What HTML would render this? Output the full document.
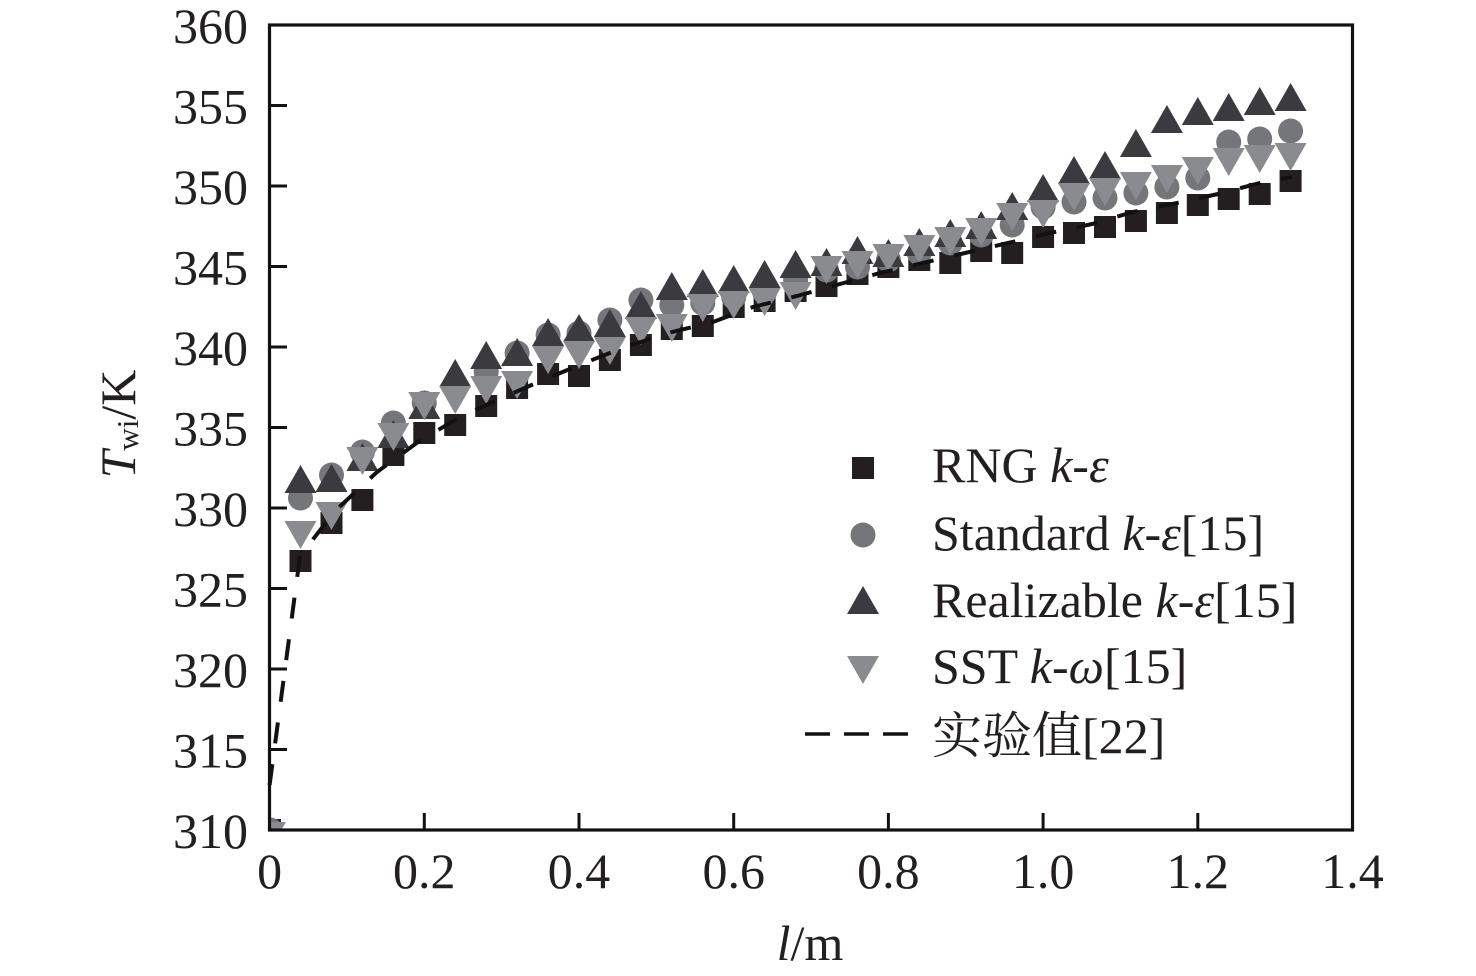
<!DOCTYPE html>
<html><head><meta charset="utf-8"><style>
html,body{margin:0;padding:0;background:#fff;}
svg{display:block;}
text{font-family:"Liberation Serif","Noto Serif CJK SC",serif;fill:#231f20;}
</style></head><body>
<svg width="1476" height="976" viewBox="0 0 1476 976" xmlns="http://www.w3.org/2000/svg">
<defs>
<rect id="sq" x="-11" y="-11" width="22" height="22" fill="#231f20"/>
<circle id="ci" cx="0" cy="0" r="12.5" fill="#75767a"/>
<polygon id="ut" points="0,-14 16,14 -16,14" fill="#3b3a3f"/>
<polygon id="dt" points="-16,-14 16,-14 0,14" fill="#8a8b8e"/>
<clipPath id="pc"><rect x="269.5" y="25" width="1083" height="805"/></clipPath>
</defs>
<rect width="1476" height="976" fill="#fff"/>

<g clip-path="url(#pc)">
<use href="#sq" x="270" y="830"/>
<use href="#ci" x="270" y="830"/>
<use href="#ut" x="270" y="836"/>
<use href="#dt" x="270" y="836"/>
</g>

<g>
<use href="#sq" x="300.5" y="561"/><use href="#sq" x="331.5" y="523"/><use href="#sq" x="362.4" y="500"/><use href="#sq" x="393.4" y="455"/>
<use href="#sq" x="424.3" y="433"/><use href="#sq" x="455.2" y="425"/><use href="#sq" x="486.2" y="406"/><use href="#sq" x="517.1" y="388"/>
<use href="#sq" x="548.1" y="374"/><use href="#sq" x="579.0" y="376"/><use href="#sq" x="609.9" y="360"/><use href="#sq" x="640.9" y="345"/>
<use href="#sq" x="671.8" y="329"/><use href="#sq" x="702.8" y="326"/><use href="#sq" x="733.7" y="307"/><use href="#sq" x="764.6" y="301"/>
<use href="#sq" x="795.6" y="291"/><use href="#sq" x="826.5" y="286"/><use href="#sq" x="857.5" y="274"/><use href="#sq" x="888.4" y="267"/>
<use href="#sq" x="919.3" y="260"/><use href="#sq" x="950.3" y="263"/><use href="#sq" x="981.2" y="251"/><use href="#sq" x="1012.2" y="253"/>
<use href="#sq" x="1043.1" y="237"/><use href="#sq" x="1074.0" y="233"/><use href="#sq" x="1105.0" y="227"/><use href="#sq" x="1135.9" y="221"/>
<use href="#sq" x="1166.9" y="213"/><use href="#sq" x="1197.8" y="205"/><use href="#sq" x="1228.7" y="199"/><use href="#sq" x="1259.7" y="194"/>
<use href="#sq" x="1290.6" y="181"/>
</g>

<g>
<use href="#ci" x="300.5" y="498"/><use href="#ci" x="331.5" y="475"/><use href="#ci" x="362.4" y="452"/><use href="#ci" x="393.4" y="423"/>
<use href="#ci" x="424.3" y="403"/><use href="#ci" x="455.2" y="385"/><use href="#ci" x="486.2" y="372"/><use href="#ci" x="517.1" y="353"/>
<use href="#ci" x="548.1" y="335"/><use href="#ci" x="579.0" y="333"/><use href="#ci" x="609.9" y="320"/><use href="#ci" x="640.9" y="300"/>
<use href="#ci" x="671.8" y="305"/><use href="#ci" x="702.8" y="303"/><use href="#ci" x="733.7" y="297"/><use href="#ci" x="764.6" y="292"/>
<use href="#ci" x="795.6" y="280"/><use href="#ci" x="826.5" y="270"/><use href="#ci" x="857.5" y="267"/><use href="#ci" x="888.4" y="260"/>
<use href="#ci" x="919.3" y="253"/><use href="#ci" x="950.3" y="243"/><use href="#ci" x="981.2" y="235"/><use href="#ci" x="1012.2" y="225"/>
<use href="#ci" x="1043.1" y="207"/><use href="#ci" x="1074.0" y="202"/><use href="#ci" x="1105.0" y="198"/><use href="#ci" x="1135.9" y="193"/>
<use href="#ci" x="1166.9" y="187"/><use href="#ci" x="1197.8" y="178"/><use href="#ci" x="1228.7" y="142"/><use href="#ci" x="1259.7" y="139"/>
<use href="#ci" x="1290.6" y="131"/>
</g>

<g>
<use href="#ut" x="300.5" y="479"/><use href="#ut" x="331.5" y="478"/><use href="#ut" x="362.4" y="457"/><use href="#ut" x="393.4" y="434"/>
<use href="#ut" x="424.3" y="405"/><use href="#ut" x="455.2" y="373"/><use href="#ut" x="486.2" y="355"/><use href="#ut" x="517.1" y="352"/>
<use href="#ut" x="548.1" y="332"/><use href="#ut" x="579.0" y="328"/><use href="#ut" x="609.9" y="323"/><use href="#ut" x="640.9" y="305"/>
<use href="#ut" x="671.8" y="286"/><use href="#ut" x="702.8" y="283"/><use href="#ut" x="733.7" y="279"/><use href="#ut" x="764.6" y="274"/>
<use href="#ut" x="795.6" y="264"/><use href="#ut" x="826.5" y="262"/><use href="#ut" x="857.5" y="250"/><use href="#ut" x="888.4" y="253"/>
<use href="#ut" x="919.3" y="242"/><use href="#ut" x="950.3" y="233"/><use href="#ut" x="981.2" y="225"/><use href="#ut" x="1012.2" y="206"/>
<use href="#ut" x="1043.1" y="188"/><use href="#ut" x="1074.0" y="170"/><use href="#ut" x="1105.0" y="165"/><use href="#ut" x="1135.9" y="143"/>
<use href="#ut" x="1166.9" y="119"/><use href="#ut" x="1197.8" y="111"/><use href="#ut" x="1228.7" y="107"/><use href="#ut" x="1259.7" y="101"/>
<use href="#ut" x="1290.6" y="97"/>
</g>

<g>
<use href="#dt" x="300.5" y="535"/><use href="#dt" x="331.5" y="516"/><use href="#dt" x="362.4" y="461"/><use href="#dt" x="393.4" y="437"/>
<use href="#dt" x="424.3" y="406"/><use href="#dt" x="455.2" y="400"/><use href="#dt" x="486.2" y="390"/><use href="#dt" x="517.1" y="385"/>
<use href="#dt" x="548.1" y="360"/><use href="#dt" x="579.0" y="355"/><use href="#dt" x="609.9" y="351"/><use href="#dt" x="640.9" y="331"/>
<use href="#dt" x="671.8" y="328"/><use href="#dt" x="702.8" y="308"/><use href="#dt" x="733.7" y="305"/><use href="#dt" x="764.6" y="302"/>
<use href="#dt" x="795.6" y="296"/><use href="#dt" x="826.5" y="270"/><use href="#dt" x="857.5" y="265"/><use href="#dt" x="888.4" y="258"/>
<use href="#dt" x="919.3" y="249"/><use href="#dt" x="950.3" y="241"/><use href="#dt" x="981.2" y="232"/><use href="#dt" x="1012.2" y="217"/>
<use href="#dt" x="1043.1" y="214"/><use href="#dt" x="1074.0" y="197"/><use href="#dt" x="1105.0" y="192"/><use href="#dt" x="1135.9" y="186"/>
<use href="#dt" x="1166.9" y="179"/><use href="#dt" x="1197.8" y="171"/><use href="#dt" x="1228.7" y="162"/><use href="#dt" x="1259.7" y="159"/>
<use href="#dt" x="1290.6" y="157"/>
</g>

<polyline fill="none" stroke="#111" stroke-width="4" stroke-dasharray="21 21"
 points="269.6,785 300,556 335,511 377,472 418,442 460,417 502,398 543,380 587,362 625,347 672,332 713,322 753,307 797,296 840,284 880,273 923,263 965,253 1008,243 1050,233 1092,224 1133,212 1177,203 1218,194 1260,183 1292,177"/>

<rect x="269.5" y="25" width="1083" height="805" fill="none" stroke="#111" stroke-width="3.2"/>

<g stroke="#111" stroke-width="3">
<line x1="269.5" y1="105.5" x2="287" y2="105.5"/>
<line x1="269.5" y1="186" x2="287" y2="186"/>
<line x1="269.5" y1="266.5" x2="287" y2="266.5"/>
<line x1="269.5" y1="347" x2="287" y2="347"/>
<line x1="269.5" y1="427.5" x2="287" y2="427.5"/>
<line x1="269.5" y1="508" x2="287" y2="508"/>
<line x1="269.5" y1="588.5" x2="287" y2="588.5"/>
<line x1="269.5" y1="669" x2="287" y2="669"/>
<line x1="269.5" y1="749.5" x2="287" y2="749.5"/>
<line x1="424.3" y1="830" x2="424.3" y2="813"/>
<line x1="579" y1="830" x2="579" y2="813"/>
<line x1="733.7" y1="830" x2="733.7" y2="813"/>
<line x1="888.4" y1="830" x2="888.4" y2="813"/>
<line x1="1043.1" y1="830" x2="1043.1" y2="813"/>
<line x1="1197.8" y1="830" x2="1197.8" y2="813"/>
</g>

<g font-size="50" text-anchor="end">
<text x="248" y="43">360</text>
<text x="248" y="123.5">355</text>
<text x="248" y="204">350</text>
<text x="248" y="284.5">345</text>
<text x="248" y="365">340</text>
<text x="248" y="445.5">335</text>
<text x="248" y="526">330</text>
<text x="248" y="606.5">325</text>
<text x="248" y="687">320</text>
<text x="248" y="767.5">315</text>
<text x="248" y="848">310</text>
</g>

<g font-size="50" text-anchor="middle">
<text x="269.6" y="888">0</text>
<text x="424.3" y="888">0.2</text>
<text x="579" y="888">0.4</text>
<text x="733.7" y="888">0.6</text>
<text x="888.4" y="888">0.8</text>
<text x="1043.1" y="888">1.0</text>
<text x="1197.8" y="888">1.2</text>
<text x="1352.5" y="888">1.4</text>
</g>

<text x="810" y="960" font-size="50" text-anchor="middle"><tspan font-style="italic">l</tspan>/m</text>
<text transform="translate(135,424) rotate(-90)" font-size="50" text-anchor="middle"><tspan font-style="italic">T</tspan><tspan font-size="31" dy="3">wi</tspan><tspan dy="-3">/K</tspan></text>

<use href="#sq" x="863" y="468"/>
<use href="#ci" x="863" y="535"/>
<use href="#ut" x="863" y="600"/>
<use href="#dt" x="863" y="670"/>
<line x1="805" y1="734" x2="908" y2="734" stroke="#111" stroke-width="3.5" stroke-dasharray="25 14"/>
<g font-size="50">
<text x="932" y="482">RNG <tspan font-style="italic">k</tspan>-<tspan font-style="italic">ε</tspan></text>
<text x="932" y="550">Standard <tspan font-style="italic">k</tspan>-<tspan font-style="italic">ε</tspan>[15]</text>
<text x="932" y="617">Realizable <tspan font-style="italic">k</tspan>-<tspan font-style="italic">ε</tspan>[15]</text>
<text x="932" y="683">SST <tspan font-style="italic">k</tspan>-<tspan font-style="italic">ω</tspan>[15]</text>
<text x="932" y="753">实验值[22]</text>
</g>
</svg>
</body></html>
